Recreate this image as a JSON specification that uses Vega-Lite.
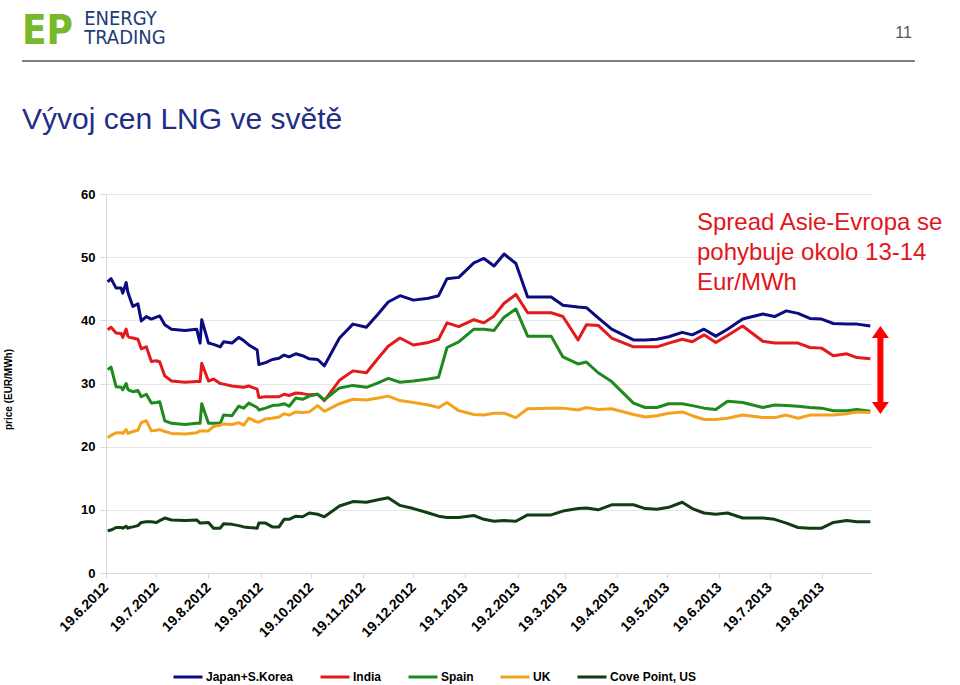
{
  "$schema": "https://vega.github.io/schema/vega-lite/v6.json",
  "width": 766,
  "height": 379,
  "autosize": {"type": "none"},
  "padding": {"left": 106, "top": 194, "right": 88, "bottom": 112},
  "background": "white",
  "config": {"view": {"stroke": null}, "font": "Liberation Sans"},
  "layer": [
    {
      "data": {
        "values": [
          {"d": "2012-06-20", "J": 46.1, "I": 38.5, "S": 32.2, "U": 21.4, "C": 6.7},
          {"d": "2012-06-22", "J": 46.6, "I": 38.9, "S": 32.6, "U": 21.8, "C": 6.8},
          {"d": "2012-06-25", "J": 45.1, "I": 38.0, "S": 29.5, "U": 22.2, "C": 7.2},
          {"d": "2012-06-28", "J": 45.1, "I": 37.9, "S": 29.4, "U": 22.2, "C": 7.2},
          {"d": "2012-06-29", "J": 44.3, "I": 37.3, "S": 29.0, "U": 22.1, "C": 7.1},
          {"d": "2012-07-01", "J": 46.0, "I": 38.6, "S": 30.0, "U": 22.7, "C": 7.4},
          {"d": "2012-07-02", "J": 44.5, "I": 37.5, "S": 29.1, "U": 22.1, "C": 7.1},
          {"d": "2012-07-03", "J": 43.7, "I": 37.3, "S": 28.9, "U": 22.2, "C": 7.2},
          {"d": "2012-07-05", "J": 42.2, "I": 37.2, "S": 28.7, "U": 22.4, "C": 7.3},
          {"d": "2012-07-08", "J": 42.6, "I": 37.0, "S": 28.9, "U": 22.6, "C": 7.5},
          {"d": "2012-07-10", "J": 39.9, "I": 35.5, "S": 27.9, "U": 23.8, "C": 8.0},
          {"d": "2012-07-13", "J": 40.6, "I": 35.8, "S": 28.3, "U": 24.1, "C": 8.1},
          {"d": "2012-07-16", "J": 40.2, "I": 33.5, "S": 26.9, "U": 22.5, "C": 8.1},
          {"d": "2012-07-19", "J": 40.5, "I": 33.6, "S": 27.0, "U": 22.6, "C": 8.0},
          {"d": "2012-07-21", "J": 40.7, "I": 33.4, "S": 27.1, "U": 22.7, "C": 8.3},
          {"d": "2012-07-24", "J": 39.3, "I": 31.2, "S": 24.1, "U": 22.4, "C": 8.7},
          {"d": "2012-07-28", "J": 38.6, "I": 30.4, "S": 23.7, "U": 22.1, "C": 8.4},
          {"d": "2012-08-05", "J": 38.4, "I": 30.2, "S": 23.5, "U": 22.0, "C": 8.3},
          {"d": "2012-08-12", "J": 38.6, "I": 30.3, "S": 23.7, "U": 22.2, "C": 8.4},
          {"d": "2012-08-14", "J": 36.4, "I": 30.3, "S": 23.7, "U": 22.5, "C": 7.9},
          {"d": "2012-08-15", "J": 40.1, "I": 33.2, "S": 26.8, "U": 22.5, "C": 7.9},
          {"d": "2012-08-19", "J": 36.4, "I": 30.4, "S": 23.7, "U": 22.5, "C": 8.0},
          {"d": "2012-08-22", "J": 36.2, "I": 30.7, "S": 23.7, "U": 23.2, "C": 7.1},
          {"d": "2012-08-26", "J": 35.8, "I": 30.0, "S": 23.7, "U": 23.4, "C": 7.1},
          {"d": "2012-08-28", "J": 36.6, "I": 29.9, "S": 25.0, "U": 23.6, "C": 7.8},
          {"d": "2012-09-02", "J": 36.4, "I": 29.6, "S": 24.9, "U": 23.5, "C": 7.7},
          {"d": "2012-09-06", "J": 37.3, "I": 29.5, "S": 26.4, "U": 23.8, "C": 7.5},
          {"d": "2012-09-09", "J": 36.8, "I": 29.4, "S": 26.1, "U": 23.4, "C": 7.3},
          {"d": "2012-09-12", "J": 36.1, "I": 29.6, "S": 26.9, "U": 24.5, "C": 7.2},
          {"d": "2012-09-17", "J": 35.3, "I": 29.1, "S": 26.2, "U": 23.9, "C": 7.1},
          {"d": "2012-09-18", "J": 33.0, "I": 27.8, "S": 25.8, "U": 23.9, "C": 7.9},
          {"d": "2012-09-22", "J": 33.3, "I": 27.9, "S": 26.1, "U": 24.4, "C": 7.9},
          {"d": "2012-09-26", "J": 33.8, "I": 27.9, "S": 26.5, "U": 24.5, "C": 7.3},
          {"d": "2012-09-30", "J": 34.0, "I": 27.9, "S": 26.6, "U": 24.7, "C": 7.3},
          {"d": "2012-10-03", "J": 34.5, "I": 28.3, "S": 26.8, "U": 25.2, "C": 8.5},
          {"d": "2012-10-06", "J": 34.2, "I": 28.1, "S": 26.4, "U": 25.0, "C": 8.5},
          {"d": "2012-10-10", "J": 34.7, "I": 28.5, "S": 27.7, "U": 25.5, "C": 9.0},
          {"d": "2012-10-14", "J": 34.4, "I": 28.4, "S": 27.5, "U": 25.4, "C": 8.9},
          {"d": "2012-10-18", "J": 33.9, "I": 28.2, "S": 28.0, "U": 25.5, "C": 9.5},
          {"d": "2012-10-23", "J": 33.8, "I": 28.3, "S": 28.3, "U": 26.5, "C": 9.3},
          {"d": "2012-10-27", "J": 32.8, "I": 27.3, "S": 27.4, "U": 25.6, "C": 8.9},
          {"d": "2012-11-05", "J": 37.2, "I": 30.5, "S": 29.3, "U": 26.8, "C": 10.6},
          {"d": "2012-11-13", "J": 39.4, "I": 32.0, "S": 29.7, "U": 27.5, "C": 11.3},
          {"d": "2012-11-21", "J": 38.9, "I": 31.7, "S": 29.4, "U": 27.4, "C": 11.2},
          {"d": "2012-11-28", "J": 41.0, "I": 34.0, "S": 30.1, "U": 27.7, "C": 11.6},
          {"d": "2012-12-04", "J": 42.9, "I": 35.9, "S": 30.8, "U": 28.0, "C": 11.9},
          {"d": "2012-12-11", "J": 43.9, "I": 37.2, "S": 30.2, "U": 27.3, "C": 10.7},
          {"d": "2012-12-19", "J": 43.2, "I": 36.1, "S": 30.4, "U": 27.0, "C": 10.2},
          {"d": "2012-12-28", "J": 43.5, "I": 36.5, "S": 30.7, "U": 26.6, "C": 9.5},
          {"d": "2013-01-03", "J": 43.9, "I": 37.0, "S": 31.0, "U": 26.2, "C": 9.0},
          {"d": "2013-01-08", "J": 46.6, "I": 39.6, "S": 35.7, "U": 27.0, "C": 8.8},
          {"d": "2013-01-15", "J": 46.8, "I": 39.0, "S": 36.6, "U": 25.7, "C": 8.8},
          {"d": "2013-01-24", "J": 49.1, "I": 40.1, "S": 38.6, "U": 25.1, "C": 9.1},
          {"d": "2013-01-30", "J": 49.8, "I": 39.6, "S": 38.6, "U": 25.0, "C": 8.5},
          {"d": "2013-02-05", "J": 48.6, "I": 40.7, "S": 38.4, "U": 25.3, "C": 8.2},
          {"d": "2013-02-11", "J": 50.5, "I": 42.7, "S": 40.5, "U": 25.3, "C": 8.3},
          {"d": "2013-02-18", "J": 49.0, "I": 44.1, "S": 41.8, "U": 24.6, "C": 8.2},
          {"d": "2013-02-25", "J": 43.7, "I": 41.2, "S": 37.5, "U": 26.0, "C": 9.2},
          {"d": "2013-03-11", "J": 43.7, "I": 41.2, "S": 37.5, "U": 26.1, "C": 9.2},
          {"d": "2013-03-18", "J": 42.4, "I": 40.6, "S": 34.2, "U": 26.1, "C": 9.8},
          {"d": "2013-03-27", "J": 42.1, "I": 36.9, "S": 33.1, "U": 25.8, "C": 10.2},
          {"d": "2013-04-01", "J": 42.0, "I": 39.3, "S": 33.4, "U": 26.2, "C": 10.3},
          {"d": "2013-04-08", "J": 40.4, "I": 39.2, "S": 31.7, "U": 25.9, "C": 10.0},
          {"d": "2013-04-16", "J": 38.6, "I": 37.2, "S": 30.3, "U": 26.0, "C": 10.8},
          {"d": "2013-04-29", "J": 36.9, "I": 35.8, "S": 26.9, "U": 25.1, "C": 10.8},
          {"d": "2013-05-06", "J": 36.9, "I": 35.8, "S": 26.2, "U": 24.7, "C": 10.2},
          {"d": "2013-05-13", "J": 37.0, "I": 35.8, "S": 26.2, "U": 24.9, "C": 10.1},
          {"d": "2013-05-20", "J": 37.4, "I": 36.4, "S": 26.8, "U": 25.3, "C": 10.4},
          {"d": "2013-05-28", "J": 38.1, "I": 37.0, "S": 26.8, "U": 25.5, "C": 11.2},
          {"d": "2013-06-03", "J": 37.7, "I": 36.6, "S": 26.5, "U": 24.9, "C": 10.2},
          {"d": "2013-06-10", "J": 38.6, "I": 37.7, "S": 26.1, "U": 24.3, "C": 9.5},
          {"d": "2013-06-17", "J": 37.5, "I": 36.5, "S": 25.9, "U": 24.3, "C": 9.3},
          {"d": "2013-06-24", "J": 38.6, "I": 37.6, "S": 27.2, "U": 24.5, "C": 9.5},
          {"d": "2013-07-03", "J": 40.2, "I": 39.1, "S": 27.0, "U": 25.0, "C": 8.7},
          {"d": "2013-07-15", "J": 41.0, "I": 36.7, "S": 26.2, "U": 24.6, "C": 8.7},
          {"d": "2013-07-22", "J": 40.6, "I": 36.4, "S": 26.6, "U": 24.6, "C": 8.5},
          {"d": "2013-07-29", "J": 41.5, "I": 36.4, "S": 26.5, "U": 25.0, "C": 7.9},
          {"d": "2013-08-05", "J": 41.1, "I": 36.4, "S": 26.4, "U": 24.5, "C": 7.2},
          {"d": "2013-08-12", "J": 40.3, "I": 35.7, "S": 26.2, "U": 25.0, "C": 7.1},
          {"d": "2013-08-19", "J": 40.2, "I": 35.6, "S": 26.1, "U": 25.0, "C": 7.1},
          {"d": "2013-08-26", "J": 39.5, "I": 34.4, "S": 25.7, "U": 25.0, "C": 8.0},
          {"d": "2013-09-03", "J": 39.4, "I": 34.7, "S": 25.7, "U": 25.2, "C": 8.3},
          {"d": "2013-09-09", "J": 39.4, "I": 34.1, "S": 25.9, "U": 25.5, "C": 8.1},
          {"d": "2013-09-17", "J": 39.1, "I": 33.9, "S": 25.6, "U": 25.4, "C": 8.1}
        ]
      },
      "transform": [{"fold": ["J", "I", "S", "U", "C"], "as": ["series", "price"]}],
      "mark": {"type": "line", "strokeWidth": 3, "strokeJoin": "round"},
      "encoding": {
        "x": {
          "field": "d",
          "type": "temporal",
          "scale": {"domain": [{"year": 2012, "month": 6, "date": 19}, {"year": 2013, "month": 9, "date": 18}], "nice": false},
          "axis": {
            "values": [
              {"year": 2012, "month": 6, "date": 19}, {"year": 2012, "month": 7, "date": 19},
              {"year": 2012, "month": 8, "date": 19}, {"year": 2012, "month": 9, "date": 19},
              {"year": 2012, "month": 10, "date": 19}, {"year": 2012, "month": 11, "date": 19},
              {"year": 2012, "month": 12, "date": 19}, {"year": 2013, "month": 1, "date": 19},
              {"year": 2013, "month": 2, "date": 19}, {"year": 2013, "month": 3, "date": 19},
              {"year": 2013, "month": 4, "date": 19}, {"year": 2013, "month": 5, "date": 19},
              {"year": 2013, "month": 6, "date": 19}, {"year": 2013, "month": 7, "date": 19},
              {"year": 2013, "month": 8, "date": 19}
            ],
            "format": "%-d.%-m.%Y",
            "labelAngle": -45,
            "labelAlign": "right",
            "labelBaseline": "middle",
            "labelFont": "Liberation Sans",
            "labelFontWeight": "bold",
            "labelFontSize": 14,
            "labelColor": "black",
            "labelPadding": 7,
            "labelOverlap": false,
            "labelFlush": false,
            "labelBound": false,
            "tickSize": 5,
            "tickColor": "#d9d9d9",
            "domainColor": "#d9d9d9",
            "grid": false,
            "title": null
          }
        },
        "y": {
          "field": "price",
          "type": "quantitative",
          "scale": {"domain": [0, 60], "nice": false},
          "axis": {
            "values": [0, 10, 20, 30, 40, 50, 60],
            "grid": true,
            "gridColor": "#e6e6e6",
            "domainColor": "#d9d9d9",
            "tickColor": "#d9d9d9",
            "tickSize": 6,
            "labelFont": "Liberation Sans",
            "labelFontSize": 13,
            "labelFontWeight": "bold",
            "labelColor": "black",
            "labelPadding": 5,
            "title": "price (EUR/MWh)",
            "titleFont": "Liberation Sans",
            "titleFontSize": 10,
            "titleFontWeight": "bold",
            "titleColor": "black",
            "titleX": -98,
            "titleY": 195,
            "titleAngle": -90,
            "titleAlign": "center",
            "titleBaseline": "middle"
          }
        },
        "color": {
          "field": "series",
          "type": "nominal",
          "scale": {"domain": ["J", "I", "S", "U", "C"], "range": ["#0c0c80", "#e31a1c", "#1e8a1e", "#f4a21e", "#123d12"]},
          "legend": {
            "orient": "none",
            "legendX": 66,
            "legendY": 467,
            "direction": "horizontal",
            "title": null,
            "symbolType": "stroke",
            "symbolSize": 841,
            "symbolStrokeWidth": 3,
            "labelFont": "Liberation Sans",
            "labelFontSize": 12,
            "labelFontWeight": "bold",
            "labelColor": "black",
            "labelOffset": 2,
            "columnPadding": 20,
            "labelExpr": "datum.label == 'J' ? 'Japan+S.Korea' : datum.label == 'I' ? 'India' : datum.label == 'S' ? 'Spain' : datum.label == 'U' ? 'UK' : 'Cove Point, US'"
          }
        }
      }
    },
    {
      "data": {"values": [{}]},
      "mark": {"type": "text", "text": ["Spread Asie-Evropa se", "pohybuje okolo 13-14", "Eur/MWh"], "align": "left", "baseline": "alphabetic", "fontSize": 24, "lineHeight": 30, "font": "Liberation Sans", "color": "#e2151c"},
      "encoding": {
        "x": {"datum": {"year": 2013, "month": 6, "date": 5, "hours": 19}, "type": "temporal"},
        "y": {"datum": 54.3, "type": "quantitative"}
      }
    },
    {
      "data": {"values": [{}]},
      "mark": {"type": "rule", "color": "#ff0000", "strokeWidth": 6},
      "encoding": {
        "x": {"datum": {"year": 2013, "month": 9, "date": 23}, "type": "temporal"},
        "y": {"datum": 37.8, "type": "quantitative"},
        "y2": {"datum": 26.5}
      }
    },
    {
      "data": {"values": [{}]},
      "mark": {"type": "point", "shape": "M0,-1L1,0.4L-1,0.4Z", "filled": true, "color": "#ff0000", "opacity": 1, "size": 289},
      "encoding": {
        "x": {"datum": {"year": 2013, "month": 9, "date": 23}, "type": "temporal"},
        "y": {"datum": 37.76, "type": "quantitative"}
      }
    },
    {
      "data": {"values": [{}]},
      "mark": {"type": "point", "shape": "M0,1L1,-0.4L-1,-0.4Z", "filled": true, "color": "#ff0000", "opacity": 1, "size": 289},
      "encoding": {
        "x": {"datum": {"year": 2013, "month": 9, "date": 23}, "type": "temporal"},
        "y": {"datum": 26.52, "type": "quantitative"}
      }
    },
    {
      "data": {"values": [{}]},
      "mark": {"type": "rule", "color": "#7f7f7f", "strokeWidth": 2},
      "encoding": {
        "x": {"datum": {"year": 2012, "month": 4, "date": 30}, "type": "temporal"},
        "x2": {"datum": {"year": 2013, "month": 10, "date": 13, "hours": 12}},
        "y": {"datum": 81.05, "type": "quantitative"}
      }
    },
    {
      "data": {"values": [{}]},
      "mark": {"type": "text", "text": "Vývoj cen LNG ve světě", "align": "left", "baseline": "alphabetic", "fontSize": 30, "font": "Liberation Sans", "color": "#1f2f86"},
      "encoding": {
        "x": {"datum": {"year": 2012, "month": 4, "date": 30}, "type": "temporal"},
        "y": {"datum": 70.3, "type": "quantitative"}
      }
    },
    {
      "data": {"values": [{}]},
      "mark": {"type": "text", "text": "EP", "align": "left", "baseline": "alphabetic", "fontSize": 40, "fontWeight": "bold", "font": "'Liberation Sans Narrow', 'DejaVu Sans Condensed', 'Liberation Sans'", "color": "#76b82a"},
      "encoding": {
        "x": {"datum": {"year": 2012, "month": 4, "date": 30}, "type": "temporal"},
        "y": {"datum": 83.74, "type": "quantitative"}
      }
    },
    {
      "data": {"values": [{}]},
      "mark": {"type": "text", "text": ["ENERGY", "TRADING"], "align": "left", "baseline": "alphabetic", "fontSize": 20, "lineHeight": 19, "font": "DejaVu Sans Condensed", "color": "#1d3c78"},
      "encoding": {
        "x": {"datum": {"year": 2012, "month": 6, "date": 6}, "type": "temporal"},
        "y": {"datum": 86.75, "type": "quantitative"}
      }
    },
    {
      "data": {"values": [{}]},
      "mark": {"type": "text", "text": "11", "align": "right", "baseline": "alphabetic", "fontSize": 16, "font": "Liberation Sans", "color": "#555555"},
      "encoding": {
        "x": {"datum": {"year": 2013, "month": 10, "date": 11, "hours": 17}, "type": "temporal"},
        "y": {"datum": 84.69, "type": "quantitative"}
      }
    }
  ]
}
